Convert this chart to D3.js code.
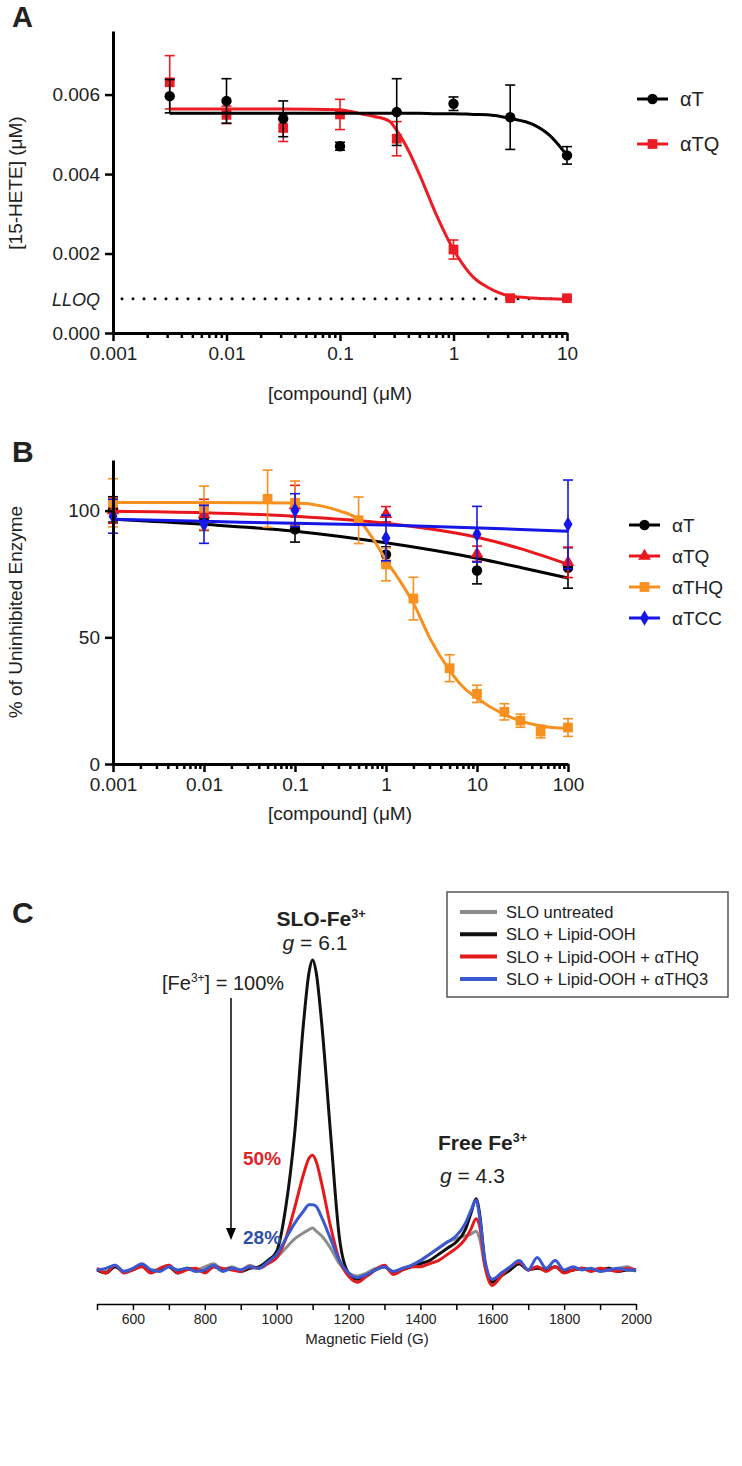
<!DOCTYPE html>
<html>
<head>
<meta charset="utf-8">
<script src="https://cdn.jsdelivr.net/npm/d3@7"></script>
<style>
  body { margin: 0; background: #fff; }
  text { font-family: Arial, "Liberation Sans", Helvetica, sans-serif; fill: #222; }
</style>
</head>
<body>
<div id="chart"></div>
<script>
// ---------- Panel A data: [15-HETE] vs compound ----------
const concA = [0.00316, 0.01, 0.0316, 0.1, 0.316, 1, 3.16, 10];
const aT_mean = [0.00596, 0.00584, 0.00539, 0.0047, 0.00556, 0.00577, 0.00543, 0.00447];
const aT_err = [0.00042, 0.00056, 0.00045, 0.0001, 0.00084, 0.00017, 0.00081, 0.00022];
const aTQ_mean = [0.00631, 0.00549, 0.00516, 0.0055, 0.00489, 0.0021, 0.000875, 0.000875];
const aTQ_err = [0.00067, 0.00022, 0.00034, 0.00038, 0.00043, 0.00024, 0.00003, 0.00003];
// fitted curves
const fitA_x = [0.00316, 0.01, 0.0316, 0.1, 0.15, 0.2, 0.273, 0.316, 0.4, 0.5, 0.7, 1, 1.5, 2, 3.16, 5, 7, 10];
const fitA_aT = [0.00553, 0.00553, 0.00553, 0.00553, 0.00553, 0.00553, 0.00553, 0.00553, 0.00553, 0.00553, 0.00552, 0.00552, 0.0055, 0.00549, 0.0054, 0.00525, 0.00498, 0.00447];
const fitA_aTQ = [0.00564, 0.00564, 0.00564, 0.00562, 0.00552, 0.00545, 0.00533, 0.0051, 0.0046, 0.004, 0.003, 0.0021, 0.0014, 0.00115, 0.00093, 0.00088, 0.00086, 0.00085];
const lloqA = 0.00086;
const xTicksA = [0.001, 0.01, 0.1, 1, 10];
const xTickLabelsA = ['0.001', '0.01', '0.1', '1', '10'];
const yTicksA = [0, 0.002, 0.004, 0.006];
const yTickLabelsA = ['0.000', '0.002', '0.004', '0.006'];

// ---------- Panel B data: % of uninhibited enzyme ----------
const concB = [0.001, 0.01, 0.1, 1, 10, 100];
const bT_mean = [100.5, 97.2, 92.6, 82.7, 76.4, 77.4];
const bT_err = [5, 5, 5, 3, 5.3, 8];
const bTQ_mean = [100, 98.5, 102, 98.6, 83, 79.6];
const bTQ_err = [5, 6, 8, 3, 3, 6];
const bTCC_mean = [97.8, 94.6, 100.2, 89.2, 90.7, 94.6];
const bTCC_err = [6.7, 7.5, 6.5, 9, 11, 17.5];
const concTHQ = [0.001, 0.01, 0.05, 0.1, 0.5, 1, 2, 5, 10, 20, 30, 50, 100];
const bTHQ_mean = [103.1, 101.1, 104.7, 103.1, 96.2, 78.8, 65.3, 37.8, 27.7, 20.6, 17.1, 12.8, 14.4];
const bTHQ_err = [9.5, 8.6, 11.3, 8.6, 9.2, 6.5, 8.4, 5.3, 3.4, 3.2, 2.6, 2.5, 3.5];
const fitB_x = [0.001, 0.01, 0.1, 1, 10, 30, 100];
const fitB_T = [96.6, 94.6, 91.9, 87.3, 81.2, 77.6, 73.4];
const fitB_TQ = [99.8, 99.2, 97.8, 95, 89.5, 85, 78.8];
const fitB_TCC = [96.6, 95.8, 95, 94.3, 93.2, 92.6, 91.9];
const fitB_THQx = [0.001, 0.01, 0.1, 0.2, 0.3, 0.5, 0.7, 1, 1.5, 2, 3, 5, 7, 10, 20, 30, 50, 100];
const fitB_THQ = [103.2, 103.2, 103, 101.8, 100, 96.5, 89.5, 80.5, 71, 63.5, 50, 37, 30.5, 26, 19.5, 17, 15, 14];
const xTicksB = [0.001, 0.01, 0.1, 1, 10, 100];
const xTickLabelsB = ['0.001', '0.01', '0.1', '1', '10', '100'];
const yTicksB = [0, 50, 100];

// ---------- Panel C data: EPR spectra (arbitrary units) ----------
const fieldG = [500, 525, 550, 575, 600, 625, 650, 675, 700, 725, 750, 775, 800, 825, 850, 875, 900, 925, 950, 975,
  1000, 1025, 1050, 1075, 1090, 1100, 1110,
  1125, 1150, 1175, 1200, 1225, 1250, 1275, 1300, 1325, 1350, 1375, 1400, 1425, 1450, 1475, 1500, 1525,
  1540, 1555, 1565, 1580, 1600,
  1625, 1650, 1675, 1700, 1725, 1750, 1775, 1800, 1825, 1850, 1875, 1900, 1925, 1950, 1975, 2000];
const eprUntreated = [0.5, -0.5, 1, -0.5, 0.5, 1.5, 0, 0, 1.5, -0.5, 0.5, 0, 1, 2, 0, 1, 0, 1.5, 0.5, 2,
  4, 7, 10, 12, 13, 13.5, 12.5,
  11, 7, 2, -1, -2, -1, 0.5, 1, -0.5, 0.5, 1.5, 3, 5, 7, 9, 10, 11,
  11.5, 12.5, 10, 1, -3,
  -1.5, 0.5, 2, 0, 1, 0, 1, -0.5, 0, 0.5, 0, 0.5, 0, 0.5, 1, -0.5];
const eprLipid = [0, -1, 1, -0.5, 0, 1.5, -0.5, 0, 1, -1, 0.5, 0, -0.5, 1, 0, 0.5, -0.5, 0.5, 1, 3,
  6, 20, 44, 80, 96, 100, 96,
  80, 44, 10, -1, -3, -2, 0, 1, -1, 0, 1, 2, 3, 5, 7, 9, 13,
  18, 23, 18, 2, -4,
  -2, 0, 2, 0, 0.5, 0, 1, -0.5, 0, 0.5, 0, 0, 0.5, -0.5, 0, 0];
const eprTHQ = [0.5, -1, 1.5, -1, 0, 1, -1, 0.5, 1.5, -1, 0, 0.5, -1, 1, 0.5, 0, -0.5, 1, 0.5, 2,
  4, 10, 20, 31, 36, 37, 35,
  28, 14, 3, -2, -4, -2, 0, 1.5, -1.5, 0, 1, 1, 2, 3, 5, 7, 10,
  13, 16.5, 14, 1, -5,
  -2, 1, 2.5, 0, 1, -0.5, 1, -1, 0, 0.5, -0.5, 0.5, 0, -0.5, 0.5, 0];
const eprTHQ3 = [0, 0.5, 1.5, -0.5, 0.5, 2, 0, -0.5, 1, 0, 0.5, -0.5, 0, 1.5, -0.5, 0.5, 0, 1, 0.5, 2.5,
  5, 10, 15, 19, 21, 21, 20.5,
  17, 10, 3, -1, -2.5, -1.5, 0, 1, -0.5, 0.5, 1.5, 3, 5, 7, 9, 11, 15,
  19, 22.5, 17, 3, -3,
  -1, 1, 3, 0, 4, 0.5, 3, 0, 1, 0, 0.5, -0.5, 0, 0.5, 0, 0];
const legendC = ['SLO untreated', 'SLO + Lipid-OOH', 'SLO + Lipid-OOH + \u03b1THQ', 'SLO + Lipid-OOH + \u03b1THQ3'];
const xTicksC = [500, 600, 700, 800, 900, 1000, 1100, 1200, 1300, 1400, 1500, 1600, 1700, 1800, 1900, 2000];
const xTickLabelsC = [600, 800, 1000, 1200, 1400, 1600, 1800, 2000];

// ---------- helpers ----------
const W = 742, H = 1466;
const svg = d3.select('#chart').append('svg')
  .attr('width', W).attr('height', H)
  .attr('viewBox', [0, 0, W, H]);
svg.append('rect').attr('width', W).attr('height', H).attr('fill', '#fff');

// minor log ticks (2..9 in each decade)
function minorLogTicks(lo, hi) {
  const t = [];
  for (let e = Math.round(Math.log10(lo)); e < Math.round(Math.log10(hi)); e++) {
    for (let m = 2; m < 10; m++) t.push(+(m * Math.pow(10, e)).toPrecision(3));
  }
  return t;
}

function styleAxis(g, fs) {
  g.select('.domain').attr('stroke', '#000').attr('stroke-width', 3);
  g.selectAll('.tick line').attr('stroke', '#000').attr('stroke-width', 2.5);
  g.selectAll('.tick text').attr('font-size', fs).attr('fill', '#222')
    .style('font-family', 'Arial, "Liberation Sans", sans-serif');
}

function logXAxis(x, yPos, ticks, labels) {
  const minor = svg.append('g').attr('transform', `translate(0,${yPos})`)
    .call(d3.axisBottom(x).tickValues(minorLogTicks(ticks[0], ticks[ticks.length - 1]))
      .tickFormat('').tickSize(5));
  minor.select('.domain').remove();
  minor.selectAll('.tick line').attr('stroke', '#000').attr('stroke-width', 2.5);
  const major = svg.append('g').attr('transform', `translate(0,${yPos})`)
    .call(d3.axisBottom(x).tickValues(ticks).tickFormat((d, i) => labels[i])
      .tickSizeInner(8).tickSizeOuter(0).tickPadding(6));
  styleAxis(major, 19);
}

function errorBars(g, xs, means, errs, x, y, color) {
  const grp = g.append('g').attr('stroke', color).attr('stroke-width', 1.6).attr('fill', 'none');
  xs.forEach((c, i) => {
    const cx = x(c), y1 = y(means[i] + errs[i]), y0 = y(means[i] - errs[i]);
    grp.append('line').attr('x1', cx).attr('x2', cx).attr('y1', y1).attr('y2', y0);
    grp.append('line').attr('x1', cx - 5).attr('x2', cx + 5).attr('y1', y1).attr('y2', y1);
    grp.append('line').attr('x1', cx - 5).attr('x2', cx + 5).attr('y1', y0).attr('y2', y0);
  });
}

const symbols = {
  circle: d3.symbol().type(d3.symbolCircle).size(85),
  square: d3.symbol().type(d3.symbolSquare).size(95),
  triangle: d3.symbol().type(d3.symbolTriangle).size(70),
  diamond: d3.symbol().type(d3.symbolDiamond).size(70)
};

function markers(g, xs, means, x, y, color, shape) {
  g.append('g').selectAll('path').data(xs).join('path')
    .attr('d', symbols[shape])
    .attr('transform', (d, i) => `translate(${x(d)},${y(means[i])})`)
    .attr('fill', color);
}

function fitLine(g, xs, ys, x, y, color, w) {
  const line = d3.line().x(d => x(d[0])).y(d => y(d[1])).curve(d3.curveMonotoneX);
  g.append('path').datum(xs.map((c, i) => [c, ys[i]]))
    .attr('d', line).attr('fill', 'none').attr('stroke', color).attr('stroke-width', w || 3);
}

function legendItem(x, y, color, shape, label, fs) {
  svg.append('line').attr('x1', x).attr('x2', x + 31).attr('y1', y).attr('y2', y)
    .attr('stroke', color).attr('stroke-width', 3);
  svg.append('path').attr('d', symbols[shape]).attr('transform', `translate(${x + 15.5},${y})`).attr('fill', color);
  svg.append('text').attr('x', x + 43).attr('y', y + 7).attr('font-size', fs).text(label);
}

function panelLetter(t, x, y, fs) {
  svg.append('text').attr('x', x).attr('y', y).attr('font-size', fs).attr('font-weight', 'bold')
    .attr('fill', '#111').text(t);
}

// ================= Panel A =================
const xA = d3.scaleLog().domain([0.001, 10]).range([113, 567]);
const yA = d3.scaleLinear().domain([0, 0.0076]).range([333, 31]);
const gA = svg.append('g');

panelLetter('A', 12, 27, 29);

// LLOQ dotted line
gA.append('line').attr('x1', 122).attr('x2', xA(9)).attr('y1', yA(lloqA)).attr('y2', yA(lloqA))
  .attr('stroke', '#000').attr('stroke-width', 3).attr('stroke-linecap', 'round')
  .attr('stroke-dasharray', '0,11');
svg.append('text').attr('x', 100).attr('y', yA(lloqA) + 7).attr('text-anchor', 'end')
  .attr('font-size', 18).attr('font-style', 'italic').text('LLOQ');

fitLine(gA, fitA_x, fitA_aTQ, xA, yA, '#ec1c24');
errorBars(gA, concA, aTQ_mean, aTQ_err, xA, yA, '#ec1c24');
markers(gA, concA, aTQ_mean, xA, yA, '#ec1c24', 'square');
fitLine(gA, fitA_x, fitA_aT, xA, yA, '#000');
errorBars(gA, concA, aT_mean, aT_err, xA, yA, '#000');
markers(gA, concA, aT_mean, xA, yA, '#000', 'circle');

logXAxis(xA, 333, xTicksA, xTickLabelsA);
const yAxA = svg.append('g').attr('transform', 'translate(113,0)')
  .call(d3.axisLeft(yA).tickValues(yTicksA).tickFormat((d, i) => yTickLabelsA[i])
    .tickSizeInner(8).tickSizeOuter(0).tickPadding(5));
styleAxis(yAxA, 19);

svg.append('text').attr('x', 340).attr('y', 400).attr('text-anchor', 'middle').attr('font-size', 19)
  .text('[compound] (\u03bcM)');
svg.append('text').attr('transform', 'translate(22,183) rotate(-90)').attr('text-anchor', 'middle')
  .attr('font-size', 19).text('[15-HETE] (\u03bcM)');

legendItem(637, 99, '#000', 'circle', '\u03b1T', 20);
legendItem(637, 144, '#ec1c24', 'square', '\u03b1TQ', 20);

// ================= Panel B =================
const xB = d3.scaleLog().domain([0.001, 100]).range([113, 568]);
const yB = d3.scaleLinear().domain([0, 120]).range([764, 460]);
const gB = svg.append('g');

panelLetter('B', 12, 462, 30);

const seriesB = [
  { xs: concB, m: bT_mean, e: bT_err, fx: fitB_x, fy: fitB_T, c: '#000', s: 'circle' },
  { xs: concB, m: bTQ_mean, e: bTQ_err, fx: fitB_x, fy: fitB_TQ, c: '#e8171d', s: 'triangle' },
  { xs: concTHQ, m: bTHQ_mean, e: bTHQ_err, fx: fitB_THQx, fy: fitB_THQ, c: '#f7901e', s: 'square' },
  { xs: concB, m: bTCC_mean, e: bTCC_err, fx: fitB_x, fy: fitB_TCC, c: '#1616e6', s: 'diamond' }
];
seriesB.forEach(sr => {
  fitLine(gB, sr.fx, sr.fy, xB, yB, sr.c);
  errorBars(gB, sr.xs, sr.m, sr.e, xB, yB, sr.c);
  markers(gB, sr.xs, sr.m, xB, yB, sr.c, sr.s);
});

logXAxis(xB, 764, xTicksB, xTickLabelsB);
const yAxB = svg.append('g').attr('transform', 'translate(113,0)')
  .call(d3.axisLeft(yB).tickValues(yTicksB).tickSizeInner(8).tickSizeOuter(0).tickPadding(5));
styleAxis(yAxB, 19);

svg.append('text').attr('x', 340).attr('y', 820).attr('text-anchor', 'middle').attr('font-size', 19)
  .text('[compound] (\u03bcM)');
svg.append('text').attr('transform', 'translate(22,612) rotate(-90)').attr('text-anchor', 'middle')
  .attr('font-size', 19).text('% of Uninhibited Enzyme');

legendItem(629, 525, '#000', 'circle', '\u03b1T', 19);
legendItem(629, 556, '#e8171d', 'triangle', '\u03b1TQ', 19);
legendItem(629, 587, '#f7901e', 'square', '\u03b1THQ', 19);
legendItem(629, 618, '#1616e6', 'diamond', '\u03b1TCC', 19);

// ================= Panel C =================
const xC = d3.scaleLinear().domain([500, 2000]).range([97, 636]);
const yC = d3.scaleLinear().domain([-11, 100]).range([1304, 960]);
const gC = svg.append('g');

panelLetter('C', 12, 923, 30);

const colorsC = ['#8c8c8c', '#111111', '#e41a1c', '#3a58d0'];
const spectra = [eprUntreated, eprLipid, eprTHQ, eprTHQ3];
const specLine = d3.line().x(d => xC(d[0])).y(d => yC(d[1])).curve(d3.curveMonotoneX);
spectra.forEach((s, k) => {
  gC.append('path').datum(fieldG.map((f, i) => [f, s[i]]))
    .attr('d', specLine).attr('fill', 'none').attr('stroke', colorsC[k])
    .attr('stroke-width', 3).attr('stroke-linejoin', 'round');
});

const xAxC = svg.append('g').attr('transform', 'translate(0,1304)')
  .call(d3.axisBottom(xC).tickValues(xTicksC)
    .tickFormat(d => xTickLabelsC.includes(d) ? d : '')
    .tickSizeInner(6).tickSizeOuter(0).tickPadding(4));
xAxC.select('.domain').attr('stroke', '#000').attr('stroke-width', 1.5);
xAxC.selectAll('.tick line').attr('stroke', '#000').attr('stroke-width', 1.5);
xAxC.selectAll('.tick text').attr('font-size', 14).attr('fill', '#222');
svg.append('text').attr('x', 367).attr('y', 1344).attr('text-anchor', 'middle').attr('font-size', 15)
  .text('Magnetic Field (G)');

// annotations
function feText(t, x, y, fs, weight, pre, post, anchor) {
  const el = svg.append('text').attr('x', x).attr('y', y).attr('font-size', fs)
    .attr('font-weight', weight).attr('text-anchor', anchor || 'start');
  el.append('tspan').text(pre + 'Fe');
  el.append('tspan').attr('dy', -fs * 0.38).attr('font-size', fs * 0.6).text('3+');
  el.append('tspan').attr('dy', fs * 0.38).text(post);
  return el;
}
feText(svg, 321, 926, 21, 'bold', 'SLO-', '', 'middle');
const g61 = svg.append('text').attr('x', 315).attr('y', 950).attr('font-size', 21).attr('text-anchor', 'middle');
g61.append('tspan').attr('font-style', 'italic').text('g');
g61.append('tspan').text(' = 6.1');
feText(svg, 162, 990, 20, 'normal', '[', '] = 100%');
svg.append('text').attr('x', 243).attr('y', 1165).attr('font-size', 19).attr('font-weight', 'bold')
  .style('fill', '#e0252a').text('50%');
svg.append('text').attr('x', 243).attr('y', 1244).attr('font-size', 19).attr('font-weight', 'bold')
  .style('fill', '#3050a8').text('28%');
feText(svg, 438, 1150, 21, 'bold', 'Free ', '');
const g43 = svg.append('text').attr('x', 440).attr('y', 1183).attr('font-size', 21);
g43.append('tspan').attr('font-style', 'italic').text('g');
g43.append('tspan').text(' = 4.3');

// arrow from 100% down to 28%
svg.append('line').attr('x1', 231).attr('x2', 231).attr('y1', 998).attr('y2', 1230)
  .attr('stroke', '#000').attr('stroke-width', 1.5);
svg.append('path').attr('d', 'M226,1228 L236,1228 L231,1240 Z').attr('fill', '#000');

// legend box
svg.append('rect').attr('x', 447).attr('y', 892).attr('width', 281).attr('height', 105)
  .attr('fill', '#fff').attr('stroke', '#555').attr('stroke-width', 1.5);
legendC.forEach((lab, i) => {
  const yy = 912 + i * 22.3;
  svg.append('line').attr('x1', 460).attr('x2', 497).attr('y1', yy).attr('y2', yy)
    .attr('stroke', colorsC[i]).attr('stroke-width', 4);
  svg.append('text').attr('x', 506).attr('y', yy + 6).attr('font-size', 16.5).text(lab);
});
</script>
</body>
</html>
